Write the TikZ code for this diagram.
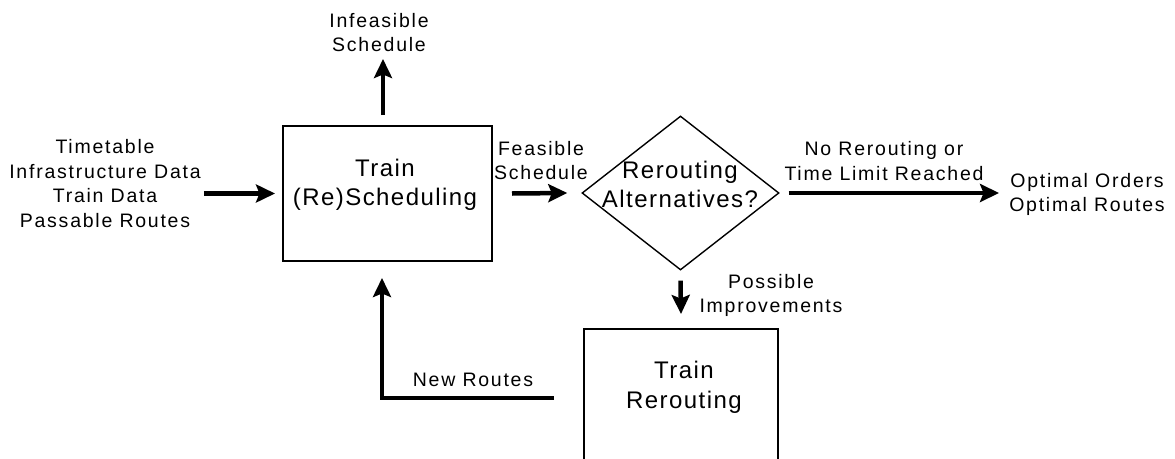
\documentclass[tikz,border=0pt]{standalone}
\usepackage{fontspec}
\setmainfont{Liberation Sans}
\newfontfamily\smallf[LetterSpace=9]{Liberation Sans}
\newfontfamily\bigf[LetterSpace=6]{Liberation Sans}
\usetikzlibrary{arrows.meta,shapes.geometric}
\begin{document}
\begin{tikzpicture}[x=1pt,y=-1pt,
  small/.style={font=\smallf\fontsize{19.5}{24.5}\selectfont, align=center, inner sep=0pt},
  big/.style={font=\bigf\fontsize{24}{29.5}\selectfont, align=center, inner sep=0pt},
  boxnode/.style={draw, line width=2pt, inner sep=0pt},
  flow/.style={line width=4.5pt, -{Stealth[length=19pt,width=18pt,inset=3.5pt]}}]
\useasboundingbox (0,0) rectangle (1175,458);
\fill[white] (0,0) rectangle (1175,458);

% boxes
\node[boxnode, minimum width=209pt, minimum height=135pt] (sched) at (387.5,193.5) {};
\node[big] (schedtxt) at (385,185) {Train\\(Re)Scheduling};
\node[draw, diamond, line width=1.4pt, minimum width=197pt, minimum height=154pt, inner sep=0pt] (dec) at (680.5,193) {};
\node[big] (dectxt) at (680,184.5) {Rerouting\\Alternatives?};
\node[boxnode, minimum width=194pt, minimum height=134pt, anchor=north] (rer) at (681,328) {};
\node[big] (rertxt) at (684,387.5) {Train\\Rerouting};

% labels
\node[small] (inp) at (105,183.5) {Timetable\\Infrastructure Data\\Train Data\\Passable Routes};
\node[small] (inf) at (379,32.5) {Infeasible\\Schedule};
\node[small] (feas) at (541,160.5) {Feasible\\Schedule};
\node[small] (norr) at (884,161) {No Rerouting or\\Time Limit Reached};
\node[small] (opt) at (1087,194.5) {Optimal Orders\\Optimal Routes};
\node[small] (poss) at (771,295.5) {Possible\\Improvements};
\node[small] (newr) at (473,380) {New Routes};

% connectors
\draw[flow] ([xshift=3pt]inp.east |- sched.west) -- ([xshift=-7pt]sched.west);
\draw[flow] ([xshift=-4.5pt,yshift=10pt]sched.north) -- ++(0,-56);
\draw[flow] ([xshift=19pt]sched.east) -- ([xshift=-14pt]dec.west);
\draw[flow] ([xshift=9pt]dec.east) -- ([xshift=-10pt]opt.west |- dec.east);
\draw[flow] ([yshift=-10pt]dec.south) -- ([yshift=14pt]rer.north);
\draw[flow] ([xshift=-29pt,yshift=-2pt]rer.west) -| ([xshift=-5.5pt,yshift=-16pt]sched.south);
\end{tikzpicture}
\end{document}
